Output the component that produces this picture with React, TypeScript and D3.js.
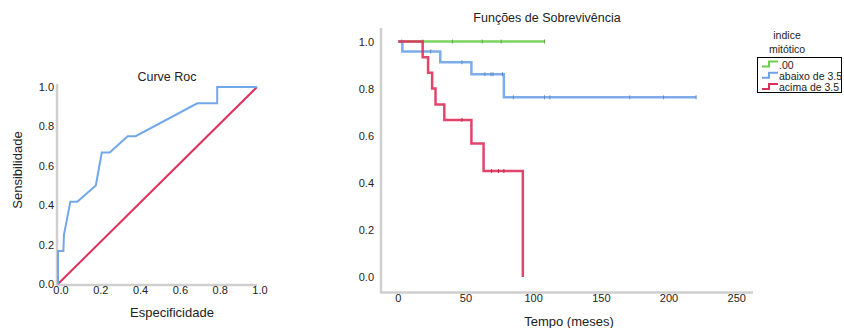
import React from "react";
import * as d3 from "d3";

// ROC curve data (x = 1 - especificidade, y = sensibilidade)
const rocX = [0, 0, 0.027, 0.03, 0.062, 0.097, 0.19, 0.22, 0.26, 0.35, 0.39, 0.70, 0.80, 0.80, 1.0];
const rocY = [0, 0.167, 0.167, 0.25, 0.417, 0.417, 0.5, 0.667, 0.667, 0.75, 0.75, 0.917, 0.917, 1.0, 1.0];
const rocTicks = [0, 0.2, 0.4, 0.6, 0.8, 1.0];

// Survival data
const groupNames = [".00", "abaixo de 3.5", "acima de 3.5"];
const groupColors = ["#6dce4f", "#6fa3e8", "#e0305a"];
const greenEvents: [number, number][] = [[0, 1]];
const greenEnd = 108;
const greenCensor = [2.5, 18, 40, 62, 76, 108];
const blueEvents: [number, number][] = [[0, 1], [3, 0.958], [31, 0.912], [54, 0.861], [78, 0.763]];
const blueEnd = 220;
const blueCensor = [24, 47, 64, 68.5, 70, 77, 85, 108, 112, 171, 196, 220];
const redEvents: [number, number][] = [[0, 1], [18, 0.933], [22, 0.867], [25, 0.8], [27.5, 0.733], [34, 0.667], [54, 0.567], [63, 0.45], [92, 0]];
const redEnd = 92;
const redCensor = [47, 69, 74, 78];
const survXTicks = [0, 50, 100, 150, 200, 250];
const survYTicks = [0, 0.2, 0.4, 0.6, 0.8, 1.0];

const FONT = "'Liberation Sans', Arial, sans-serif";
const AXIS = "#cfcfcf";

function survAt(events: [number, number][], t: number) {
  let s = 1;
  for (const [et, es] of events) if (et <= t) s = es;
  return s;
}

export default function App() {
  // ROC scales
  const rx = d3.scaleLinear().domain([0, 1]).range([58, 257]);
  const ry = d3.scaleLinear().domain([0, 1]).range([284, 87]);
  const rocLine = d3.line<number>().x((_, i) => rx(rocX[i])).y((_, i) => ry(rocY[i]));
  const rocPath = rocLine(rocX) || "";
  const diag = d3.line<number>().x((d) => rx(d)).y((d) => ry(d))([0, 1]) || "";

  // Survival scales
  const sx = d3.scaleLinear().domain([0, 250]).range([398.3, 736.7]);
  const sy = d3.scaleLinear().domain([0, 1]).range([277, 41.5]);
  const stepLine = d3.line<[number, number]>().x((d) => sx(d[0])).y((d) => sy(d[1])).curve(d3.curveStepAfter);

  const groups = [
    { events: greenEvents, end: greenEnd, censor: greenCensor },
    { events: blueEvents, end: blueEnd, censor: blueCensor },
    { events: redEvents, end: redEnd, censor: redCensor },
  ];

  return (
    <svg width={844} height={328} style={{ position: "fixed", left: 0, top: 0, background: "#fff" }} fontFamily={FONT}>
      <rect x={0} y={0} width={844} height={328} fill="#fff" />
      {/* ROC chart */}
      <text x={167} y={81} textAnchor="middle" fontSize={12.5} fill="#222">Curve Roc</text>
      <line x1={57} y1={84} x2={57} y2={285} stroke={AXIS} strokeWidth={2.5} />
      <line x1={56} y1={285} x2={257} y2={285} stroke={AXIS} strokeWidth={2.5} />
      {rocTicks.map((t) => (
        <text key={"ry" + t} x={54} y={ry(t) + 4} textAnchor="end" fontSize={11} fill="#222">{t.toFixed(1)}</text>
      ))}
      {rocTicks.map((t) => (
        <text key={"rx" + t} x={rx(t) + 3} y={294} textAnchor="middle" fontSize={11} fill="#222">{t.toFixed(1)}</text>
      ))}
      <path d={diag} stroke="#e0305a" strokeWidth={2} fill="none" />
      <path d={rocPath} stroke="#72a7ea" strokeWidth={2} fill="none" />
      <text transform="translate(22,170) rotate(-90)" textAnchor="middle" fontSize={13} fill="#222">Sensibilidade</text>
      <text x={172} y={317} textAnchor="middle" fontSize={13} fill="#222">Especificidade</text>

      {/* Survival chart */}
      <text x={547} y={22} textAnchor="middle" fontSize={12.5} fill="#222">Funções de Sobrevivência</text>
      <line x1={381} y1={28} x2={381} y2={293} stroke={AXIS} strokeWidth={2.5} />
      <line x1={380} y1={292.5} x2={753} y2={292.5} stroke={AXIS} strokeWidth={2.5} />
      {survYTicks.map((t) => (
        <text key={"sy" + t} x={374} y={sy(t) + 4} textAnchor="end" fontSize={11} fill="#222">{t.toFixed(1)}</text>
      ))}
      {survXTicks.map((t) => (
        <text key={"sx" + t} x={sx(t)} y={301.5} textAnchor="middle" fontSize={11} fill="#222">{t}</text>
      ))}
      <text x={569} y={326} textAnchor="middle" fontSize={13} fill="#222">Tempo (meses)</text>
      {groups.map((g, gi) => {
        const last = g.events[g.events.length - 1];
        const pts: [number, number][] = [...g.events, [g.end, last[1]]];
        return (
          <g key={"g" + gi}>
            <path d={stepLine(pts) || ""} stroke={groupColors[gi]} strokeWidth={2.5} fill="none" strokeOpacity={0.9} />
            {g.censor.map((c, ci) => {
              const s = survAt(g.events, c);
              return (
                <line key={ci} x1={sx(c)} x2={sx(c)} y1={sy(s) - 2} y2={sy(s) + 2} stroke={groupColors[gi]} strokeWidth={1} style={{ filter: "brightness(0.85)" }} />
              );
            })}
          </g>
        );
      })}

      {/* Legend */}
      <text x={787} y={39} textAnchor="middle" fontSize={10.5} fill="#222">indice</text>
      <text x={787} y={53} textAnchor="middle" fontSize={10.5} fill="#222">mitótico</text>
      <rect x={757.5} y={57.5} width={84} height={35} fill="none" stroke="#000" strokeWidth={1} />
      {groupNames.map((n, i) => {
        const yc = 64 + i * 11.3;
        const p = d3.line()([[762, yc + 2.5], [769, yc + 2.5], [769, yc - 2.5], [778, yc - 2.5]]) || "";
        return (
          <g key={"lg" + i}>
            <path d={p} stroke={groupColors[i]} strokeWidth={2} fill="none" />
            <text x={779} y={yc + 4.5} fontSize={10.5} fill="#222">{n}</text>
          </g>
        );
      })}
    </svg>
  );
}
